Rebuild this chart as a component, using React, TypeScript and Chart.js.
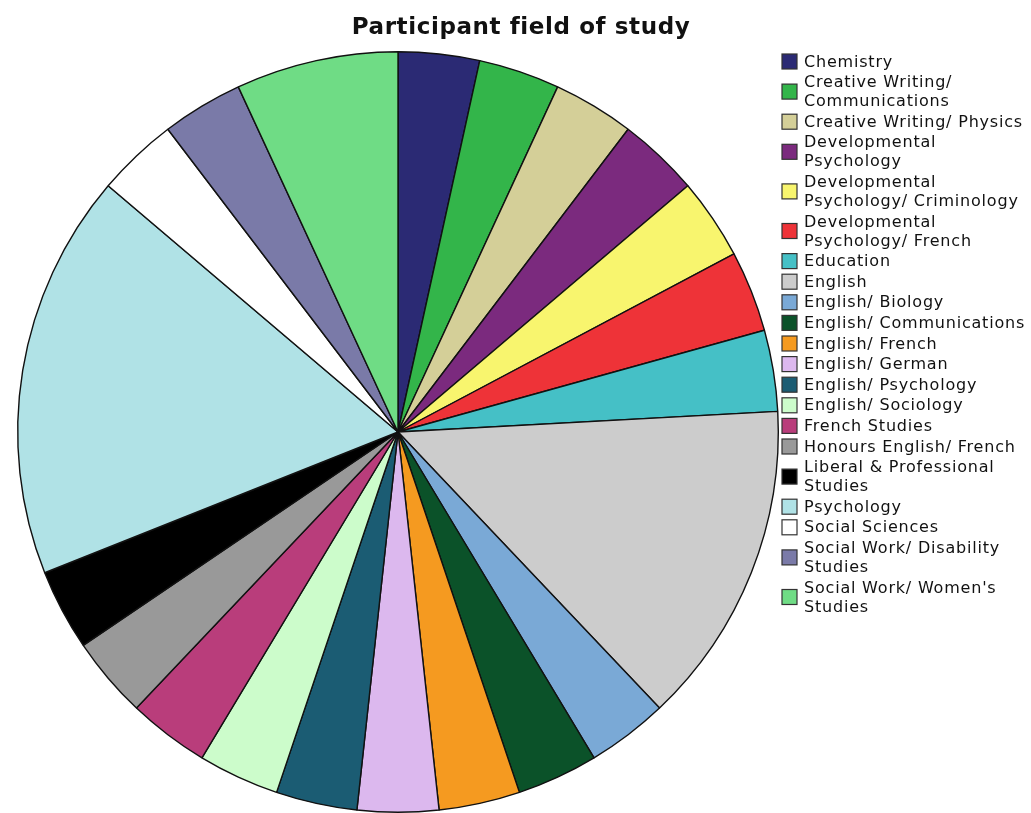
import React, { useEffect, useRef } from "react";
import { Chart, registerables } from "chart.js";

Chart.register(...registerables);

const categories: string[][] = [
  ["Chemistry"],
  ["Creative Writing/", "Communications"],
  ["Creative Writing/ Physics"],
  ["Developmental", "Psychology"],
  ["Developmental", "Psychology/ Criminology"],
  ["Developmental", "Psychology/ French"],
  ["Education"],
  ["English"],
  ["English/ Biology"],
  ["English/ Communications"],
  ["English/ French"],
  ["English/ German"],
  ["English/ Psychology"],
  ["English/ Sociology"],
  ["French Studies"],
  ["Honours English/ French"],
  ["Liberal & Professional", "Studies"],
  ["Psychology"],
  ["Social Sciences"],
  ["Social Work/ Disability", "Studies"],
  ["Social Work/ Women's", "Studies"],
];

const counts: number[] = [1, 1, 1, 1, 1, 1, 1, 4, 1, 1, 1, 1, 1, 1, 1, 1, 1, 5, 1, 1, 2];

const colors: string[] = [
  "#2b2a74", "#33b54a", "#d4cf98", "#7b2a7e", "#f8f56e", "#ee3338", "#45c0c6",
  "#cccccc", "#7aa9d6", "#0b5229", "#f59a20", "#dcb8ee", "#1b5c73", "#ccfccb",
  "#b93d7b", "#999999", "#000000", "#b0e2e6", "#ffffff", "#7a7aa8", "#6fdc85",
];

const titleText = "Participant field of study";

const FONT = '"DejaVu Sans", sans-serif';

const customPlugin = {
  id: "customText",
  afterDraw(chart: any) {
    const ctx = chart.ctx as any;
    ctx.save();
    // title
    ctx.fillStyle = "#111";
    ctx.font = `bold 23px ${FONT}`;
    ctx.letterSpacing = "0.6px";
    ctx.textAlign = "center";
    ctx.textBaseline = "middle";
    ctx.fillText(titleText, 521, 28);
    // legend
    const lineH = 19;
    const gap = 1.6;
    let y = 52;
    ctx.textAlign = "left";
    ctx.font = `16px ${FONT}`;
    ctx.letterSpacing = "0.8px";
    categories.forEach((lines: string[], i: number) => {
      const h = lines.length * lineH;
      const boxY = y + h / 2 - 7.5;
      ctx.fillStyle = colors[i];
      ctx.fillRect(782, boxY, 15, 15);
      ctx.strokeStyle = "#333";
      ctx.lineWidth = 1.2;
      ctx.strokeRect(782, boxY, 15, 15);
      ctx.fillStyle = "#111";
      lines.forEach((t, j) => {
        ctx.fillText(t, 804, y + j * lineH + lineH / 2 + 1);
      });
      y += h + gap;
    });
    ctx.restore();
  },
};

export default function App() {
  const ref = useRef<HTMLCanvasElement>(null);
  useEffect(() => {
    if (!ref.current) return;
    const chart = new Chart(ref.current, {
      type: "pie",
      data: {
        labels: categories.map((l) => l.join(" ")),
        datasets: [
          {
            data: counts,
            backgroundColor: colors,
            borderColor: "#111",
            borderWidth: 1.4,
          },
        ],
      },
      options: {
        animation: false,
        responsive: false,
        maintainAspectRatio: false,
        layout: { padding: { left: 16, right: 251, top: 51, bottom: -2 } },
        plugins: {
          legend: { display: false },
          title: { display: false },
          tooltip: { enabled: false },
        },
      },
      plugins: [customPlugin],
    });
    return () => chart.destroy();
  }, []);
  return (
    <div style={{ position: "absolute", left: 0, top: 0, width: 1031, height: 813, background: "#fff" }}>
      <canvas ref={ref} width={1031} height={813} style={{ display: "block" }} />
    </div>
  );
}
